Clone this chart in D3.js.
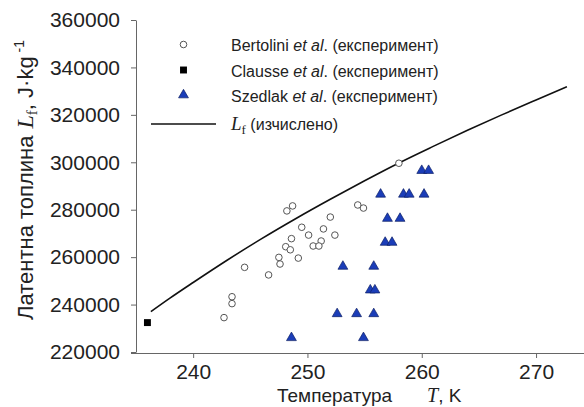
<!DOCTYPE html>
<html>
<head>
<meta charset="utf-8">
<script src="https://cdn.jsdelivr.net/npm/d3@7"></script>
<style>
  body { margin: 0; background: #fff; }
  svg { display: block; font-family: "Liberation Sans", Arial, sans-serif; }
  .serif { font-family: "Liberation Serif", "Times New Roman", serif; }
</style>
</head>
<body>
<div id="mainDiv"></div>
<script>
'use strict';

// Bertolini et al. (experiment)
var bertT = [258.0, 248.2, 248.7, 254.4, 254.9, 252.0, 249.5, 251.4, 248.6, 250.1, 252.4, 251.2,
             250.5, 251.0, 248.1, 248.5, 247.5, 247.6, 249.2, 244.5, 246.6, 243.4, 243.4, 242.7];
var bertL = [299600, 279500, 281600, 282000, 280700, 276900, 272600, 271900, 267800, 269300, 269300, 266800,
             264700, 264700, 264400, 263100, 259900, 257100, 259600, 255700, 252500, 243300, 240400, 234500];

// Clausse et al. (experiment)
var clauT = [236.0];
var clauL = [232400];

// Szedlak et al. (experiment)
var szedT = [260.0, 260.6, 256.4, 258.4, 258.9, 260.2, 257.0, 258.1, 256.8, 257.4, 253.1, 255.8,
             255.5, 255.9, 252.6, 254.3, 255.8, 248.6, 254.9];
var szedL = [296500, 296500, 286500, 286500, 286500, 286500, 276300, 276300, 266200, 266200, 256100, 256100,
             246100, 246100, 236100, 236100, 236100, 226000, 226000];

// L_f computed curve
var calcT = [236.3, 238, 240, 243, 246, 249, 252, 255, 258, 261, 264, 267, 270, 272.7];
var calcL = [237000, 242800, 249300, 258800, 267800, 276300, 284400, 292200, 299700, 306700, 313500, 320000, 326300, 331900];

var xTicks = [240, 250, 260, 270];
var yTicks = [220000, 240000, 260000, 280000, 300000, 320000, 340000, 360000];

var myApp = {};
myApp.w = 584;
myApp.h = 407;

myApp.run = function()
{
    var svg = d3.select('#mainDiv').append('svg')
        .attr('width', myApp.w)
        .attr('height', myApp.h);

    var x = d3.scaleLinear().domain([235, 275]).range([136, 593.2]);
    var y = d3.scaleLinear().domain([220000, 360000]).range([352, 20]);

    // axes
    var gx = svg.append('g')
        .attr('transform', 'translate(0,353)')
        .call(d3.axisBottom(x).tickValues(xTicks).tickSize(5).tickSizeOuter(0).tickPadding(6));
    var gy = svg.append('g')
        .attr('transform', 'translate(136,0)')
        .call(d3.axisLeft(y).tickValues(yTicks).tickSize(5).tickSizeOuter(0).tickPadding(11)
            .tickFormat(d3.format('d')));
    gx.select('.domain').attr('d', 'M131,0.5H584');
    [gx, gy].forEach(function(g) {
        g.selectAll('path, line').attr('stroke', '#666');
        g.selectAll('text').attr('font-size', 21).attr('fill', '#222')
            .attr('font-family', '"Liberation Sans", Arial, sans-serif');
    });

    // computed curve
    var line = d3.line()
        .x(function(d, i) { return x(calcT[i]); })
        .y(function(d, i) { return y(calcL[i]); })
        .curve(d3.curveMonotoneX);
    svg.append('path')
        .datum(calcT)
        .attr('d', line)
        .attr('fill', 'none')
        .attr('stroke', '#111')
        .attr('stroke-width', 1.6);

    var tri = d3.symbol().type(d3.symbolTriangle).size(42);
    var sq = d3.symbol().type(d3.symbolSquare).size(48);

    svg.append('g').selectAll('path')
        .data(szedT)
        .enter().append('path')
        .attr('d', tri)
        .attr('transform', function(d, i) { return 'translate(' + x(d) + ',' + y(szedL[i]) + ')'; })
        .attr('fill', '#1b3db8')
        .attr('stroke', '#0d1f66')
        .attr('stroke-width', 0.7);

    svg.append('g').selectAll('circle')
        .data(bertT)
        .enter().append('circle')
        .attr('cx', function(d) { return x(d); })
        .attr('cy', function(d, i) { return y(bertL[i]); })
        .attr('r', 3.3)
        .attr('fill', '#fff')
        .attr('stroke', '#555')
        .attr('stroke-width', 1);

    svg.append('g').selectAll('path')
        .data(clauT)
        .enter().append('path')
        .attr('d', sq)
        .attr('transform', function(d, i) { return 'translate(' + x(d) + ',' + y(clauL[i]) + ')'; })
        .attr('fill', '#000');

    // legend
    var lg = svg.append('g').attr('font-size', 16).attr('fill', '#222');
    lg.append('circle').attr('cx', 183.5).attr('cy', 44.5).attr('r', 3.3)
        .attr('fill', '#fff').attr('stroke', '#555');
    lg.append('path').attr('d', sq).attr('transform', 'translate(183.5,70)').attr('fill', '#000');
    lg.append('path').attr('d', tri).attr('transform', 'translate(183.5,95)')
        .attr('fill', '#1b3db8').attr('stroke', '#0d1f66').attr('stroke-width', 0.7);
    lg.append('line').attr('x1', 151).attr('x2', 216).attr('y1', 124).attr('y2', 124)
        .attr('stroke', '#111').attr('stroke-width', 1.6);

    var names = ['Bertolini ', 'Clausse ', 'Szedlak '];
    names.forEach(function(n, i) {
        var t = lg.append('text').attr('x', 231).attr('y', 51 + i * 25.5);
        t.append('tspan').text(n);
        t.append('tspan').attr('font-style', 'italic').text('et al');
        t.append('tspan').text('. (експеримент)');
    });
    var tl = lg.append('text').attr('x', 231).attr('y', 130);
    tl.append('tspan').attr('class', 'serif').attr('font-style', 'italic').attr('font-size', 19).text('L');
    tl.append('tspan').attr('class', 'serif').attr('font-size', 13).attr('dy', 4).text('f');
    tl.append('tspan').attr('dy', -4).text(' (изчислено)');

    // x label
    var xl = svg.append('text').attr('x', 277).attr('y', 402)
        .attr('font-size', 19).attr('fill', '#222');
    xl.append('tspan').text('Температура');
    xl.append('tspan').attr('class', 'serif').attr('font-style', 'italic').attr('font-size', 20)
        .attr('dx', 35).text('T');
    xl.append('tspan').text(', K');

    // y label
    var yl = svg.append('text')
        .attr('transform', 'translate(33,180) rotate(-90)')
        .attr('text-anchor', 'middle').attr('font-size', 22).attr('fill', '#222');
    yl.append('tspan').text('Латентна топлина');
    yl.append('tspan').attr('class', 'serif').attr('font-style', 'italic').attr('font-size', 24)
        .attr('dx', 7).text('L');
    yl.append('tspan').attr('class', 'serif').attr('font-size', 15).attr('dy', 4).text('f');
    yl.append('tspan').attr('dy', -4).text(', J·kg');
    yl.append('tspan').attr('font-size', 14).attr('dy', -9).text(' -1');
}

window.onload = myApp.run;
</script>
</body>
</html>
